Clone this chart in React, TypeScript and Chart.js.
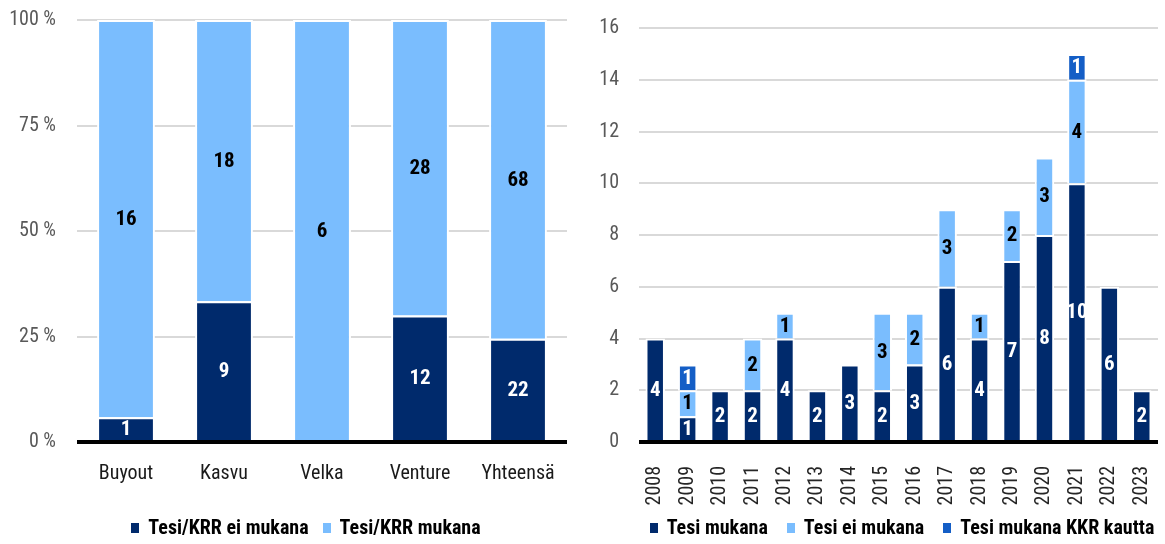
import React, { useEffect, useRef } from "react";
import { Chart, registerables } from "chart.js";

Chart.register(...registerables);

const FONT = '"Liberation Sans Narrow", "Roboto Condensed", "DejaVu Sans Condensed", sans-serif';

// ---- Left chart data ----
const leftCategories = ["Buyout", "Kasvu", "Velka", "Venture", "Yhteensä"];
const leftNotInvolved = [1, 9, 0, 12, 22]; // Tesi/KRR ei mukana
const leftInvolved = [16, 18, 6, 28, 68]; // Tesi/KRR mukana
const leftSeriesNames = ["Tesi/KRR ei mukana", "Tesi/KRR mukana"];

// ---- Right chart data ----
const years = ["2008", "2009", "2010", "2011", "2012", "2013", "2014", "2015", "2016", "2017", "2018", "2019", "2020", "2021", "2022", "2023"];
const tesiMukana = [4, 1, 2, 2, 4, 2, 3, 2, 3, 6, 4, 7, 8, 10, 6, 2];
const tesiEiMukana = [0, 1, 0, 2, 1, 0, 0, 3, 2, 3, 1, 2, 3, 4, 0, 0];
const tesiKkrKautta = [0, 1, 0, 0, 0, 0, 0, 0, 0, 0, 0, 0, 0, 1, 0, 0];
const rightSeriesNames = ["Tesi mukana", "Tesi ei mukana", "Tesi mukana KKR kautta"];

const DARK = "#002a6c";
const LIGHT = "#7abdfe";
const MID = "#145ec6";
const GRID = "#d9d9d9";

const valueLabels = {
  id: "valueLabels",
  afterDatasetsDraw(chart: any) {
    const ctx = chart.ctx;
    ctx.save();
    // zero axis line over the bar bases
    const y0 = chart.scales.y.getPixelForValue(0);
    const area = chart.chartArea;
    ctx.fillStyle = "#000";
    ctx.fillRect(area.left, y0 - 2, area.right - area.left, 4);

    ctx.font = `bold 21px ${FONT}`;
    ctx.textAlign = "center";
    ctx.textBaseline = "middle";
    chart.data.datasets.forEach((ds: any, di: number) => {
      const meta = chart.getDatasetMeta(di);
      meta.data.forEach((el: any, i: number) => {
        const c = ds.counts[i];
        if (!c) return;
        const p = el.getProps(["x", "y", "base"], true);
        ctx.fillStyle = ds.labelColor;
        ctx.fillText(String(c), p.x, (p.y + p.base) / 2 + 1);
      });
    });
    ctx.restore();
  },
};

const yAfterFit = (width: number) => (s: any) => {
  s.width = width;
  s.paddingTop = 0;
  s.paddingBottom = 0;
};

function LeftChart() {
  const ref = useRef<HTMLCanvasElement>(null);
  useEffect(() => {
    const totals = leftNotInvolved.map((v, i) => v + leftInvolved[i]);
    const pct = (arr: number[]) => arr.map((v, i) => (v === 0 ? null : (v / totals[i]) * 100));
    const chart = new Chart(ref.current!, {
      type: "bar",
      data: {
        labels: leftCategories,
        datasets: [
          {
            label: leftSeriesNames[0],
            data: pct(leftNotInvolved),
            backgroundColor: DARK,
            borderColor: "#fff",
            borderWidth: 2,
            counts: leftNotInvolved,
            labelColor: "#fff",
          } as any,
          {
            label: leftSeriesNames[1],
            data: pct(leftInvolved),
            backgroundColor: LIGHT,
            borderColor: "#fff",
            borderWidth: 2,
            counts: leftInvolved,
            labelColor: "#000",
          } as any,
        ],
      },
      options: {
        responsive: false,
        animation: false,
        datasets: { bar: { categoryPercentage: 1, barPercentage: 0.59 } },
        layout: { padding: { top: 20, right: 13, bottom: 0, left: 0 } },
        scales: {
          x: {
            stacked: true,
            grid: { display: false },
            border: { display: false },
            ticks: { color: "#1a1a1a", font: { family: FONT, size: 20 }, padding: 12 },
            afterFit: (s: any) => {
              s.height = 102;
            },
          },
          y: {
            stacked: true,
            min: 0,
            max: 100,
            border: { display: false },
            grid: {
              drawTicks: false,
              lineWidth: 2,
              color: (c: any) => (c.tick && c.tick.value === 0 ? "rgba(0,0,0,0)" : GRID),
            },
            ticks: {
              stepSize: 25,
              padding: 21,
              color: "#595959",
              font: { family: FONT, size: 20 },
              callback: (v: any) => `${v} %`,
            },
            afterFit: yAfterFit(77),
          },
        },
        plugins: { legend: { display: false }, tooltip: { enabled: false } },
      },
      plugins: [valueLabels],
    });
    return () => chart.destroy();
  }, []);
  return <canvas ref={ref} width={580} height={544} style={{ width: 580, height: 544, display: "block" }} />;
}

function RightChart() {
  const ref = useRef<HTMLCanvasElement>(null);
  useEffect(() => {
    const nz = (arr: number[]) => arr.map((v) => (v === 0 ? null : v));
    const chart = new Chart(ref.current!, {
      type: "bar",
      data: {
        labels: years,
        datasets: [
          {
            label: rightSeriesNames[0],
            data: nz(tesiMukana),
            backgroundColor: DARK,
            borderColor: "#fff",
            borderWidth: 2,
            counts: tesiMukana,
            labelColor: "#fff",
          } as any,
          {
            label: rightSeriesNames[1],
            data: nz(tesiEiMukana),
            backgroundColor: LIGHT,
            borderColor: "#fff",
            borderWidth: 2,
            counts: tesiEiMukana,
            labelColor: "#000",
          } as any,
          {
            label: rightSeriesNames[2],
            data: nz(tesiKkrKautta),
            backgroundColor: MID,
            borderColor: "#fff",
            borderWidth: 2,
            counts: tesiKkrKautta,
            labelColor: "#fff",
          } as any,
        ],
      },
      options: {
        responsive: false,
        animation: false,
        datasets: { bar: { categoryPercentage: 1, barPercentage: 0.6 } },
        layout: { padding: { top: 28, right: 7, bottom: 0, left: 0 } },
        scales: {
          x: {
            stacked: true,
            grid: { display: false },
            border: { display: false },
            ticks: {
              color: "#262626",
              font: { family: FONT, size: 20 },
              padding: 16,
              minRotation: 90,
              maxRotation: 90,
              autoSkip: false,
            },
            afterFit: (s: any) => {
              s.height = 102;
              s.paddingLeft = 0;
              s.paddingRight = 0;
            },
          },
          y: {
            stacked: true,
            min: 0,
            max: 16,
            border: { display: false },
            grid: {
              drawTicks: false,
              lineWidth: 2,
              color: (c: any) => (c.tick && c.tick.value === 0 ? "rgba(0,0,0,0)" : GRID),
            },
            ticks: {
              stepSize: 2,
              padding: 20,
              color: "#595959",
              font: { family: FONT, size: 20 },
            },
            afterFit: yAfterFit(59),
          },
        },
        plugins: { legend: { display: false }, tooltip: { enabled: false } },
      },
      plugins: [valueLabels],
    });
    return () => chart.destroy();
  }, []);
  return <canvas ref={ref} width={585} height={544} style={{ width: 585, height: 544, display: "block" }} />;
}

function Legend({ names, colors, center, gap }: { names: string[]; colors: string[]; center: number; gap: number }) {
  return (
    <div
      style={{
        position: "absolute",
        left: center - 400,
        width: 800,
        top: 515,
        height: 24,
        display: "flex",
        justifyContent: "center",
        alignItems: "center",
        gap,
        fontFamily: FONT,
        fontWeight: "bold",
        fontSize: 20,
        color: "#000",
        whiteSpace: "nowrap",
        lineHeight: "24px",
      }}
    >
      {names.map((n, i) => (
        <div key={n} style={{ display: "flex", alignItems: "center" }}>
          <span style={{ display: "inline-block", width: 8, height: 10, background: colors[i], marginRight: 9, marginTop: 2 }} />
          <span>{n}</span>
        </div>
      ))}
    </div>
  );
}

export default function App() {
  return (
    <div style={{ position: "fixed", left: 0, top: 0, width: 1165, height: 544, background: "#fff", overflow: "hidden" }}>
      <div style={{ position: "absolute", left: 0, top: 0 }}>
        <LeftChart />
      </div>
      <div style={{ position: "absolute", left: 580, top: 0 }}>
        <RightChart />
      </div>
      <Legend names={leftSeriesNames} colors={[DARK, LIGHT]} center={306} gap={14} />
      <Legend names={rightSeriesNames} colors={[DARK, LIGHT, MID]} center={902} gap={19} />
    </div>
  );
}
